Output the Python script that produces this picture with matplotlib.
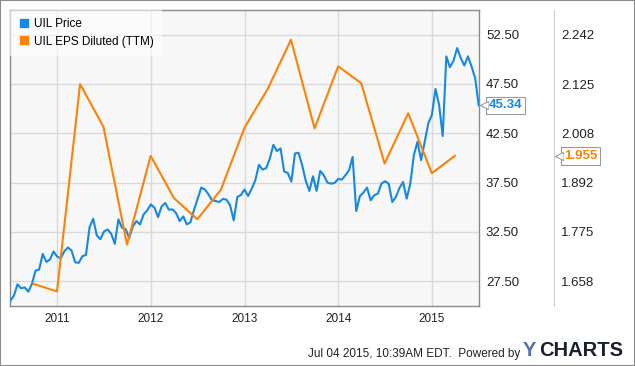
import numpy as np
import pandas as pd
import matplotlib
matplotlib.use("Agg")
from matplotlib import pyplot as plt
import matplotlib.dates as mdates
import matplotlib.transforms as mtransforms
from matplotlib.lines import Line2D
from matplotlib.patches import Rectangle

plt.rcParams['font.family'] = ['Liberation Sans', 'DejaVu Sans']

# UIL price, roughly every two weeks, Jul 2010 - Jul 2015
price_start = '2010-07-02'
price_end = '2015-07-02'
price = [
    25.53, 26.04, 27.20, 26.79, 26.89, 26.45, 27.23, 28.59, 28.69, 30.28,
    29.47, 29.71, 30.52, 30.01, 29.84, 30.55, 30.93, 30.62, 29.43, 29.37,
    30.04, 30.18, 32.99, 33.84, 32.15, 31.77, 32.55, 32.76, 32.32, 31.30,
    33.78, 32.93, 32.79, 31.90, 33.06, 33.61, 33.27, 34.29, 34.69, 35.30,
    34.96, 34.01, 35.10, 35.44, 34.76, 34.79, 34.42, 33.61, 34.08, 33.27,
    33.50, 34.76, 35.88, 37.00, 36.80, 36.32, 35.71, 35.64, 35.54, 35.85,
    35.78, 35.20, 33.67, 36.05, 36.25, 36.80, 36.15, 36.90, 37.75, 39.31,
    38.83, 38.97, 39.92, 41.34, 40.70, 40.97, 38.63, 38.49, 37.61, 40.46,
    40.53, 39.27, 37.68, 36.66, 38.15, 36.66, 38.69, 38.25, 37.51, 37.40,
    37.47, 37.88, 37.81, 38.25, 38.76, 40.10, 34.62, 36.12, 36.50, 37.00,
    35.71, 36.22, 36.39, 37.41, 37.64, 37.40, 35.54, 36.05, 36.96, 37.57,
    35.88, 37.40, 40.29, 41.65, 39.78, 41.65, 43.51, 44.36, 47.00, 45.38,
    42.22, 50.30, 49.21, 49.85, 51.14, 50.13, 49.38, 50.30, 49.28, 48.09,
    45.34,
]

# EPS diluted (TTM), quarter ends Sep 2010 - Mar 2015
eps_start = '2010-09-30'
eps = [1.652, 1.634, 2.125, 2.024, 1.745, 1.955, 1.855, 1.805, 1.875, 2.022,
       2.113, 2.230, 2.020, 2.167, 2.127, 1.937, 2.056, 1.914, 1.955]

price_ticks = [27.50, 32.50, 37.50, 42.50, 47.50, 52.50]
eps_ticks = [1.658, 1.775, 1.892, 2.008, 2.125, 2.242]

price_dates = pd.date_range(price_start, price_end, periods=len(price))
eps_dates = pd.date_range(eps_start, periods=len(eps), freq='QE')

blue = '#1588e6'
orange = '#ff8104'

fig = plt.figure(figsize=(6.35, 3.66), dpi=100)
fig.patches.append(Rectangle((0, 0), 1, 1, transform=fig.transFigure,
                             fill=False, edgecolor='#8a8a8a', lw=1.5))

ax = fig.add_axes([10.3 / 635, 60 / 366, 468.7 / 635, 296 / 366])
ax.set_facecolor('#f7f7f7')
ax.plot(price_dates, price, color=blue, lw=1.5, zorder=3)
ax.set_xlim(pd.Timestamp('2010-07-02'), pd.Timestamp('2015-07-03'))
ax.set_ylim(25, 55)
ax.xaxis.set_major_locator(mdates.YearLocator())
ax.xaxis.set_major_formatter(mdates.DateFormatter('%Y'))
ax.grid(True, color='#d9d9d9', lw=1)
ax.set_axisbelow(True)
for s in ax.spines.values():
    s.set_color('#8a8a8a')
    s.set_linewidth(1)

# EPS on a second scale, aligned with the price gridlines
k = (eps_ticks[-1] - eps_ticks[0]) / (price_ticks[-1] - price_ticks[0])
ax2 = ax.twinx()
ax2.plot(eps_dates, eps, color=orange, lw=1.5, zorder=3)
ax2.set_ylim(eps_ticks[0] + (25 - price_ticks[0]) * k,
             eps_ticks[0] + (55 - price_ticks[0]) * k)
ax2.set_yticks(eps_ticks)
ax2.set_yticklabels(['%.3f' % t for t in eps_ticks])
ax2.spines['right'].set_position(('axes', 1.16))
ax2.spines['right'].set_color('#cccccc')
for s in ['left', 'top', 'bottom']:
    ax2.spines[s].set_visible(False)
ax2.tick_params(axis='y', length=0, pad=5, labelsize=9.5, labelcolor='#222222')

# price labels sit on the right of the plot too (after twinx, which resets them)
ax.yaxis.tick_right()
ax.set_yticks(price_ticks)
ax.set_yticklabels(['%.2f' % t for t in price_ticks])
ax.tick_params(axis='y', length=0, pad=5, labelsize=9.5, labelcolor='#222222')
ax.tick_params(axis='x', length=0, pad=5, labelsize=8.5, labelcolor='#222222')

# last-value tags with a small pointer on the left
def tag(a, xfrac, val, txt, col):
    a.annotate(txt, xy=(xfrac, val), xycoords=('axes fraction', 'data'),
               xytext=(7, 0), textcoords='offset points', ha='left',
               va='center', color=col, fontsize=9.5, fontweight='bold',
               bbox=dict(boxstyle='square,pad=0.2', fc='white', ec='#999999',
                         lw=0.8), annotation_clip=False, zorder=10)
    base = mtransforms.blended_transform_factory(a.transAxes, a.transData)
    t1 = mtransforms.offset_copy(base, fig=fig, x=3.6, y=0, units='points')
    t2 = mtransforms.offset_copy(base, fig=fig, x=4.6, y=0, units='points')
    a.plot([xfrac], [val], marker='<', ms=5.5, mfc='white', mec='#999999',
           mew=0.8, transform=t1, clip_on=False, zorder=11)
    a.plot([xfrac], [val], marker='<', ms=4.5, mfc='white', mec='none',
           transform=t2, clip_on=False, zorder=12)

tag(ax, 1.0, price[-1], '%.2f' % price[-1], blue)
tag(ax2, 1.16, eps[-1], '%.3f' % eps[-1], orange)

handles = [Line2D([], [], ls='none', marker='s', ms=6, color=blue),
           Line2D([], [], ls='none', marker='s', ms=6, color=orange)]
leg = ax2.legend(handles, ['UIL Price', 'UIL EPS Diluted (TTM)'], loc='upper left',
                 fontsize=8.5, frameon=True, fancybox=False, borderaxespad=0,
                 borderpad=0.7, handlelength=1.0, handletextpad=0.3,
                 labelspacing=0.45)
leg.get_frame().set_facecolor('white')
leg.get_frame().set_alpha(0.6)
leg.get_frame().set_linewidth(0)
leg.set_zorder(20)

fig.text(520 / 635, 1 - 356.5 / 366, 'Jul 04 2015, 10:39AM EDT.  Powered by',
         ha='right', va='baseline', fontsize=8.5, color='#222222')
fig.text(523 / 635, 1 - 356.5 / 366, 'Y', ha='left', va='baseline',
         fontsize=14.5, fontweight='bold', color='#5571a8')
fig.text(539 / 635, 1 - 356.5 / 366, 'CHARTS', ha='left', va='baseline',
         fontsize=14.5, fontweight='bold', color='#1b2030')

fig.savefig('out.png', dpi=100)
